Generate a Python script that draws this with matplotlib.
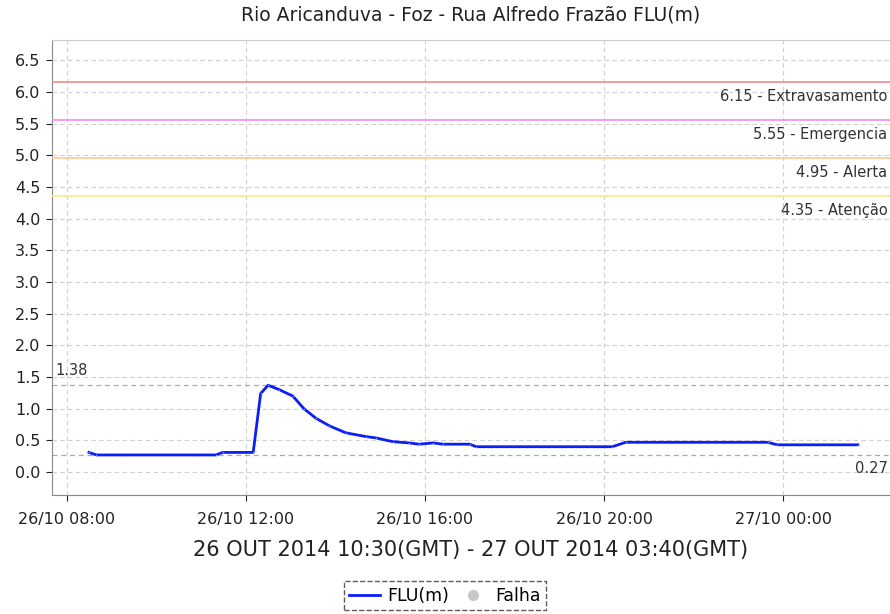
import numpy as np
import matplotlib
matplotlib.use("Agg")
import matplotlib.pyplot as plt
import matplotlib.dates as mdates
from datetime import datetime

# leituras (hora local) e nivel FLU(m)
times = ["26/10 08:30", "26/10 08:40", "26/10 11:20", "26/10 11:29", "26/10 12:10",
         "26/10 12:20", "26/10 12:30", "26/10 12:45", "26/10 13:03", "26/10 13:18",
         "26/10 13:34", "26/10 13:52", "26/10 14:14", "26/10 14:41", "26/10 14:54",
         "26/10 15:17", "26/10 15:39", "26/10 15:52", "26/10 16:11", "26/10 16:24",
         "26/10 17:00", "26/10 17:09", "26/10 20:11", "26/10 20:29", "26/10 23:39",
         "26/10 23:52", "27/10 01:40"]
levels = [0.31, 0.27, 0.27, 0.31, 0.31,
          1.24, 1.37, 1.30, 1.20, 1.00,
          0.85, 0.73, 0.62, 0.56, 0.54,
          0.48, 0.46, 0.44, 0.46, 0.44,
          0.44, 0.40, 0.40, 0.47, 0.47,
          0.43, 0.43]

thresholds = [6.15, 5.55, 4.95, 4.35]
threshold_names = ["Extravasamento", "Emergencia", "Alerta", "Atenção"]
threshold_colors = ["#f08a8a", "#f58af5", "#fcc896", "#fbe88a"]
max_level = 1.38
min_level = 0.27

x = [datetime.strptime("2014/" + t, "%Y/%d/%m %H:%M") for t in times]

fig = plt.figure(figsize=(8.9, 6.14), dpi=100)
ax = fig.add_axes([0.058, 0.194, 0.942, 0.741])

ax.plot(x, levels, color="#0a1ef5", lw=2, marker=".", markersize=2,
        markerfacecolor="#8fa0ff", markeredgewidth=0, zorder=5)

for v, name, c in zip(thresholds, threshold_names, threshold_colors):
    ax.axhline(v, color=c, lw=1.2, zorder=3)
    ax.text(0.997, v - 0.1, "%.2f - %s" % (v, name), transform=ax.get_yaxis_transform(),
            ha="right", va="top", fontsize=10.5, color="#333333")

ax.axhline(max_level, color="#aaaaaa", lw=0.9, ls=(0, (4, 3)), zorder=2)
ax.axhline(min_level, color="#aaaaaa", lw=0.9, ls=(0, (4, 3)), zorder=2)
ax.text(0.005, max_level + 0.1, "%.2f" % max_level, transform=ax.get_yaxis_transform(),
        ha="left", va="bottom", fontsize=10.5, color="#333333")
ax.text(0.997, min_level - 0.1, "%.2f" % min_level, transform=ax.get_yaxis_transform(),
        ha="right", va="top", fontsize=10.5, color="#333333")

ax.set_ylim(-0.36, 6.82)
ax.set_yticks(np.arange(0, 6.6, 0.5))
ax.yaxis.set_major_formatter(plt.FormatStrFormatter("%.1f"))
ax.set_xlim(datetime(2014, 10, 26, 7, 40), datetime(2014, 10, 27, 2, 23))
ax.xaxis.set_major_locator(mdates.HourLocator(byhour=[0, 4, 8, 12, 16, 20]))
ax.xaxis.set_major_formatter(mdates.DateFormatter("%d/%m %H:%M"))
ax.grid(True, color="#d0d0d0", ls=(0, (4, 3)), lw=0.8)
ax.tick_params(labelsize=11.5, colors="#222222", length=4, pad=4)
ax.tick_params(axis="x", pad=8)
ax.spines["right"].set_visible(False)
ax.spines["top"].set_color("#cccccc")
ax.spines["left"].set_color("#888888")
ax.spines["bottom"].set_color("#888888")

ax.set_title("Rio Aricanduva - Foz - Rua Alfredo Frazão FLU(m)", fontsize=13.5,
             color="#222222", pad=14)
ax.set_xlabel("26 OUT 2014 10:30(GMT) - 27 OUT 2014 03:40(GMT)", fontsize=15,
              color="#222222", labelpad=10)

h1, = ax.plot([], [], color="#0a1ef5", lw=2, label="FLU(m)")
h2, = ax.plot([], [], ls="", marker="o", color="#c8c8c8", markersize=7, label="Falha")
leg = fig.legend(handles=[h1, h2], loc="center", bbox_to_anchor=(0.5, 0.03), ncol=2,
                 fontsize=12.5, frameon=True, fancybox=False, handlelength=1.8,
                 columnspacing=0.5, handletextpad=0.4, borderpad=0.3)
leg.get_frame().set_edgecolor("#333333")
leg.get_frame().set_linestyle("--")

fig.savefig("out.png", dpi=100)
